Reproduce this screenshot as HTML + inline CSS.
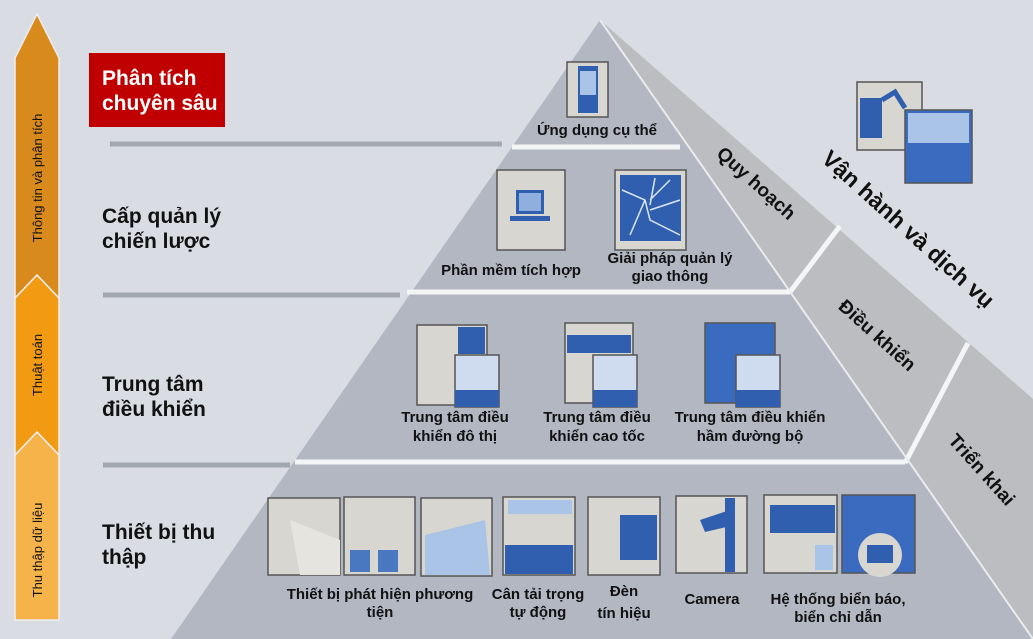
<!DOCTYPE html>
<html><head><meta charset="utf-8"><style>
html,body{margin:0;padding:0;background:#dcdfe5;}
svg{display:block}
text{font-family:"Liberation Sans","DejaVu Sans",sans-serif;font-weight:bold;fill:#111;}
</style></head><body>
<svg width="1033" height="639" viewBox="0 0 1033 639" xmlns="http://www.w3.org/2000/svg">
<rect width="1033" height="639" fill="#d9dce2"/>
<polygon points="600,20 1033,399 1033,639" fill="#bcbdc0"/>
<polygon points="600,20 1033,639 171,639" fill="#b2b7c1"/>
<line x1="790" y1="292" x2="840" y2="226" stroke="#f4f5f7" stroke-width="5"/>
<line x1="905" y1="463" x2="968" y2="343" stroke="#f4f5f7" stroke-width="5"/>
<line x1="600" y1="20" x2="1033" y2="639" stroke="#e9ebee" stroke-width="2"/>
<line x1="512" y1="147" x2="680" y2="147" stroke="#f4f5f7" stroke-width="5"/>
<line x1="407" y1="292" x2="790" y2="292" stroke="#f4f5f7" stroke-width="5"/>
<line x1="295" y1="462" x2="905" y2="462" stroke="#f4f5f7" stroke-width="5"/>
<line x1="110" y1="144" x2="502" y2="144" stroke="#a3a8b0" stroke-width="5"/>
<line x1="103" y1="295" x2="400" y2="295" stroke="#a3a8b0" stroke-width="5"/>
<line x1="103" y1="465" x2="290" y2="465" stroke="#a3a8b0" stroke-width="5"/>

<polygon points="15,620 15,455 37,432 59,455 59,620" fill="#f5b34a" stroke="#eee" stroke-width="1.5"/>
<polygon points="15,455 15,298 37,275 59,298 59,455 37,432" fill="#f29b12" stroke="#eee" stroke-width="1.5"/>
<polygon points="15,298 15,58 37,14 59,58 59,298 37,275" fill="#d98a1c" stroke="#eee" stroke-width="1.5"/>
<text transform="translate(42,178) rotate(-90)" text-anchor="middle" font-size="13" style="font-weight:normal" fill="#222">Thông tin và phân tích</text>
<text transform="translate(42,365) rotate(-90)" text-anchor="middle" font-size="13" style="font-weight:normal" fill="#222">Thuật toán</text>
<text transform="translate(42,550) rotate(-90)" text-anchor="middle" font-size="13" style="font-weight:normal" fill="#222">Thu thập dữ liệu</text>

<rect x="89" y="53" width="136" height="74" fill="#c00000"/>
<text x="102" y="85" font-size="21" style="fill:#fff">Phân tích</text>
<text x="102" y="110" font-size="21" style="fill:#fff">chuyên sâu</text>
<text x="102" y="223" font-size="21">Cấp quản lý</text>
<text x="102" y="248" font-size="21">chiến lược</text>
<text x="102" y="391" font-size="21">Trung tâm</text>
<text x="102" y="416" font-size="21">điều khiển</text>
<text x="102" y="539" font-size="21">Thiết bị thu</text>
<text x="102" y="564" font-size="21">thập</text>

<rect x="567" y="62" width="41" height="55" fill="#d8d6d0" stroke="#555" stroke-width="1.5"/>
<rect x="578" y="66" width="20" height="47" fill="#2f5fae"/>
<rect x="580" y="71" width="16" height="24" fill="#a9c4e6"/>
<rect x="497" y="170" width="68" height="80" fill="#d8d6d0" stroke="#555" stroke-width="1.5"/>
<rect x="516" y="190" width="28" height="24" fill="#2f5fae"/>
<rect x="519" y="193" width="22" height="18" fill="#8fb0df"/>
<rect x="510" y="216" width="40" height="5" fill="#2f5fae"/>
<rect x="615" y="170" width="71" height="80" fill="#d8d6d0" stroke="#555" stroke-width="1.5"/>
<rect x="620" y="175" width="61" height="66" fill="#2f5fae"/>
<path d="M622,190 L645,200 L650,220 L680,235 M650,200 L670,180 M645,200 L630,235 M650,210 L680,200 M655,178 L650,205" stroke="#dde8f6" stroke-width="1.5" fill="none"/>
<g stroke="#555" stroke-width="1.5">
<rect x="417" y="325" width="70" height="80" fill="#d8d6d0"/>
<rect x="455" y="355" width="44" height="52" fill="#cfdcef"/>
<rect x="565" y="323" width="68" height="80" fill="#d8d6d0"/>
<rect x="593" y="355" width="44" height="52" fill="#cfdcef"/>
<rect x="705" y="323" width="70" height="80" fill="#3a6bbf"/>
<rect x="736" y="355" width="44" height="52" fill="#cfdcef"/>
</g>
<rect x="458" y="327" width="27" height="27" fill="#2f5fae"/>
<rect x="567" y="335" width="64" height="18" fill="#2f5fae"/>
<rect x="455" y="390" width="44" height="17" fill="#2f5fae"/>
<rect x="593" y="390" width="44" height="17" fill="#2f5fae"/>
<rect x="736" y="390" width="44" height="17" fill="#2f5fae"/>
<g stroke="#555" stroke-width="1.5" fill="#d8d6d0">
<rect x="268" y="498" width="72" height="77"/>
<rect x="344" y="497" width="71" height="78"/>
<rect x="421" y="498" width="71" height="78"/>
<rect x="503" y="497" width="72" height="78"/>
<rect x="588" y="497" width="72" height="78"/>
<rect x="676" y="496" width="71" height="77"/>
<rect x="764" y="495" width="73" height="78"/>
<rect x="842" y="495" width="73" height="78" fill="#3a6bbf"/>
</g>
<polygon points="290,520 340,540 340,575 300,575" fill="#e6e4df"/>
<rect x="350" y="550" width="20" height="22" fill="#4a78c0"/><rect x="378" y="550" width="20" height="22" fill="#4a78c0"/>
<polygon points="425,535 485,520 490,575 425,575" fill="#a9c4e6"/>
<rect x="505" y="545" width="68" height="29" fill="#2f5fae"/>
<rect x="508" y="500" width="64" height="14" fill="#a9c4e6"/>
<rect x="620" y="515" width="37" height="45" fill="#2f5fae"/>
<rect x="725" y="498" width="10" height="74" fill="#2f5fae"/>
<polygon points="700,520 730,510 735,525 705,532" fill="#2f5fae"/>
<rect x="770" y="505" width="65" height="28" fill="#2f5fae"/>
<rect x="815" y="545" width="18" height="25" fill="#a9c4e6"/>
<circle cx="880" cy="555" r="22" fill="#d8d6d0"/><rect x="867" y="545" width="26" height="18" fill="#2f5fae"/>
<rect x="857" y="82" width="65" height="68" fill="#d8d6d0" stroke="#555" stroke-width="1.5"/>
<rect x="860" y="98" width="22" height="40" fill="#2f5fae"/>
<path d="M882,100 L895,92 L905,108" stroke="#2f5fae" stroke-width="5" fill="none"/>
<rect x="905" y="110" width="67" height="73" fill="#3a6bbf" stroke="#555" stroke-width="1.5"/>
<rect x="908" y="113" width="61" height="30" fill="#a9c4e6"/>

<g font-size="15" text-anchor="middle">
<text x="597" y="135">Ứng dụng cụ thể</text>
<text x="511" y="275">Phần mềm tích hợp</text>
<text x="670" y="263">Giải pháp quản lý</text>
<text x="670" y="281">giao thông</text>
<text x="455" y="422">Trung tâm điều</text>
<text x="455" y="441">khiển đô thị</text>
<text x="597" y="422">Trung tâm điều</text>
<text x="597" y="441">khiển cao tốc</text>
<text x="750" y="422">Trung tâm điều khiển</text>
<text x="750" y="441">hầm đường bộ</text>
<text x="380" y="599">Thiết bị phát hiện phương</text>
<text x="380" y="617">tiện</text>
<text x="538" y="599">Cân tải trọng</text>
<text x="538" y="617">tự động</text>
<text x="624" y="596">Đèn</text>
<text x="624" y="618">tín hiệu</text>
<text x="712" y="604">Camera</text>
<text x="838" y="604">Hệ thống biển báo,</text>
<text x="838" y="622">biển chỉ dẫn</text>
</g>
<g text-anchor="middle">
<text transform="translate(752,188) rotate(42)" font-size="19">Quy hoạch</text>
<text transform="translate(903,235) rotate(42)" font-size="23">Vận hành và dịch vụ</text>
<text transform="translate(873,340) rotate(42)" font-size="19">Điều khiển</text>
<text transform="translate(977,474) rotate(48)" font-size="19">Triển khai</text>
</g>
</svg>
</body></html>
